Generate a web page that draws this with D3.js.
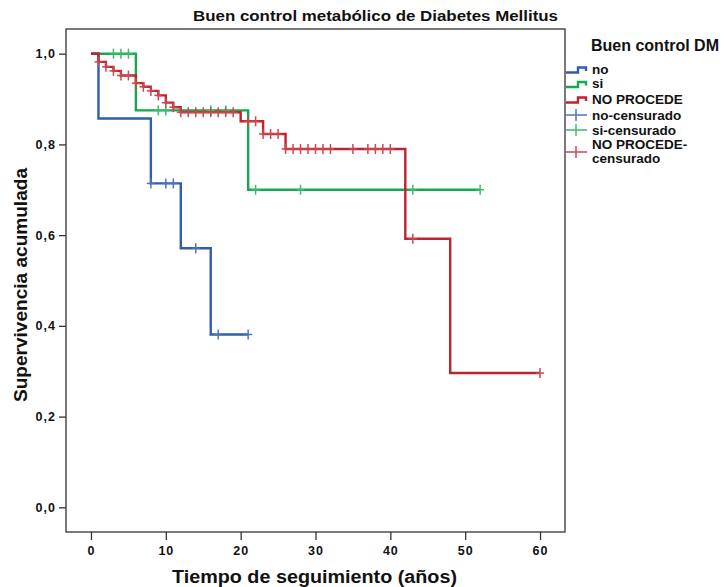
<!DOCTYPE html>
<html>
<head>
<meta charset="utf-8">
<script src="https://cdn.jsdelivr.net/npm/d3@7"></script>
<style>
  body { margin: 0; background: #fff; }
  text { font-family: "Liberation Sans", Arial, sans-serif; font-weight: bold; fill: #111; }
</style>
</head>
<body>
<script>
// Curvas de supervivencia (Kaplan-Meier)
var noTimes = [0, 1, 8, 12, 16];
var noSurv = [1.0, 0.857, 0.714, 0.571, 0.381];
var noEnd = 21;
var noCens = [8, 10, 11, 14, 17, 21];

var siTimes = [0, 6, 21];
var siSurv = [1.0, 0.875, 0.70];
var siEnd = 52;
var siCens = [3, 4, 5, 9, 10, 16, 18, 22, 28, 43, 52];

var npTimes = [0, 1, 2, 3, 4, 6, 7, 8, 9, 10, 11, 12, 20, 23, 26, 42, 48];
var npSurv = [1.0, 0.982, 0.971, 0.962, 0.952, 0.935, 0.927, 0.918, 0.908, 0.892, 0.882, 0.871, 0.851, 0.823, 0.790, 0.592, 0.296];
var npEnd = 60;
var npCens = [1, 2, 3, 4, 5, 6, 7, 8, 9, 10, 11, 12, 13, 14, 15, 16, 17, 18, 19,
    21, 22, 23, 24, 25, 26, 27, 28, 29, 30, 31, 32, 35, 37, 38, 39, 40, 43, 60];

var xTicks = [0, 10, 20, 30, 40, 50, 60];
var yTicks = [0, 0.2, 0.4, 0.6, 0.8, 1.0];

var legendLabels = ["no", "si", "NO PROCEDE"];
var legendCensLabels = [["no-censurado"], ["si-censurado"], ["NO PROCEDE-", "censurado"]];

var colors = ["#2f5eae", "#14a850", "#c0232f"];
var censColors = ["#4f74bd", "#3dba6c", "#cc4750"];

var series = [
    { times: noTimes, surv: noSurv, end: noEnd, cens: noCens },
    { times: siTimes, surv: siSurv, end: siEnd, cens: siCens },
    { times: npTimes, surv: npSurv, end: npEnd, cens: npCens }
];

var width = 725, height = 587;
var frame = { left: 66, top: 29, right: 565, bottom: 532 };

var x = d3.scaleLinear()
    .domain([-3.34, 63.34])
    .range([frame.left, frame.right]);

var y = d3.scaleLinear()
    .domain([-0.0544, 1.0544])
    .range([frame.bottom, frame.top]);

var svg = d3.select("body").append("svg")
    .attr("width", width)
    .attr("height", height);

// title
svg.append("text")
    .attr("x", 193)
    .attr("y", 21)
    .attr("textLength", 365)
    .attr("lengthAdjust", "spacingAndGlyphs")
    .style("font-size", "14px")
    .text("Buen control metabólico de Diabetes Mellitus");

// axes
var xAxis = d3.axisBottom(x)
    .tickValues(xTicks)
    .tickSize(8)
    .tickSizeOuter(0)
    .tickPadding(6);

var yAxis = d3.axisLeft(y)
    .tickValues(yTicks)
    .tickSize(7)
    .tickSizeOuter(0)
    .tickPadding(3)
    .tickFormat(function (d) { return d.toFixed(1).replace(".", ","); });

var gx = svg.append("g")
    .attr("transform", "translate(0," + frame.bottom + ")")
    .call(xAxis);

var gy = svg.append("g")
    .attr("transform", "translate(" + frame.left + ",0)")
    .call(yAxis);

[gx, gy].forEach(function (g) {
    g.select(".domain").remove();
    g.selectAll(".tick line").attr("stroke", "#333").attr("stroke-width", 1.3);
    g.selectAll(".tick text")
        .attr("fill", "#111")
        .style("font-family", "'Liberation Sans', Arial, sans-serif")
        .style("font-weight", "bold")
        .style("font-size", "12.5px")
        .style("letter-spacing", "1px");
});
gx.selectAll(".tick text").attr("dy", "0.71em");

// frame
svg.append("rect")
    .attr("x", frame.left)
    .attr("y", frame.top)
    .attr("width", frame.right - frame.left)
    .attr("height", frame.bottom - frame.top)
    .attr("fill", "none")
    .attr("stroke", "#333")
    .attr("stroke-width", 1.3);

// axis titles
svg.append("text")
    .attr("x", 314.5)
    .attr("y", 583)
    .attr("text-anchor", "middle")
    .attr("textLength", 285)
    .attr("lengthAdjust", "spacingAndGlyphs")
    .style("font-size", "18px")
    .text("Tiempo de seguimiento (años)");

svg.append("text")
    .attr("transform", "translate(27,285) rotate(-90)")
    .attr("text-anchor", "middle")
    .attr("textLength", 234)
    .attr("lengthAdjust", "spacingAndGlyphs")
    .style("font-size", "18px")
    .text("Supervivencia acumulada");

function survAt(s, t) {
    var i = d3.bisectRight(s.times, t) - 1;
    return s.surv[Math.max(0, i)];
}

var line = d3.line()
    .x(function (d) { return x(d[0]); })
    .y(function (d) { return y(d[1]); })
    .curve(d3.curveStepAfter);

var plot = svg.append("g");

series.forEach(function (s, k) {
    var pts = s.times.map(function (t, i) { return [t, s.surv[i]]; });
    pts.push([s.end, s.surv[s.surv.length - 1]]);
    plot.append("path")
        .datum(pts)
        .attr("d", line)
        .attr("fill", "none")
        .attr("stroke", colors[k])
        .attr("stroke-width", 2.4);
});

series.forEach(function (s, k) {
    var g = plot.append("g")
        .attr("stroke", censColors[k])
        .attr("stroke-width", 1.5);
    g.selectAll("line.v")
        .data(s.cens)
        .enter().append("line")
        .attr("class", "v")
        .attr("x1", function (d) { return x(d); })
        .attr("x2", function (d) { return x(d); })
        .attr("y1", function (d) { return y(survAt(s, d)) - 5; })
        .attr("y2", function (d) { return y(survAt(s, d)) + 5; });
    g.selectAll("line.h")
        .data(s.cens)
        .enter().append("line")
        .attr("class", "h")
        .attr("x1", function (d) { return x(d) - 4; })
        .attr("x2", function (d) { return x(d) + 4; })
        .attr("y1", function (d) { return y(survAt(s, d)); })
        .attr("y2", function (d) { return y(survAt(s, d)); });
});

// legend
var legend = svg.append("g");

legend.append("text")
    .attr("x", 591)
    .attr("y", 51)
    .style("font-size", "16px")
    .text("Buen control DM");

var stepRows = [73, 87.5, 103];
legendLabels.forEach(function (lab, k) {
    var yy = stepRows[k];
    legend.append("path")
        .attr("d", "M566," + (yy - 0.5) + "H578V" + (yy - 5.5) + "H586V" + (yy - 2))
        .attr("fill", "none")
        .attr("stroke", colors[k])
        .attr("stroke-width", 2.4);
    legend.append("text")
        .attr("x", 592)
        .attr("y", yy + 0.5)
        .style("font-size", "13.5px")
        .text(lab);
});

var censRows = [115, 130, 152];
var censText = [[119.5], [134.5], [148.5, 163]];
legendCensLabels.forEach(function (labs, k) {
    var yy = censRows[k];
    legend.append("line")
        .attr("x1", 566).attr("x2", 587)
        .attr("y1", yy).attr("y2", yy)
        .attr("stroke", censColors[k])
        .attr("stroke-width", 1.5);
    legend.append("line")
        .attr("x1", 576).attr("x2", 576)
        .attr("y1", yy - 6).attr("y2", yy + 6)
        .attr("stroke", censColors[k])
        .attr("stroke-width", 1.5);
    labs.forEach(function (lab, j) {
        legend.append("text")
            .attr("x", 592)
            .attr("y", censText[k][j])
            .style("font-size", "13.5px")
            .text(lab);
    });
});
</script>
</body>
</html>
